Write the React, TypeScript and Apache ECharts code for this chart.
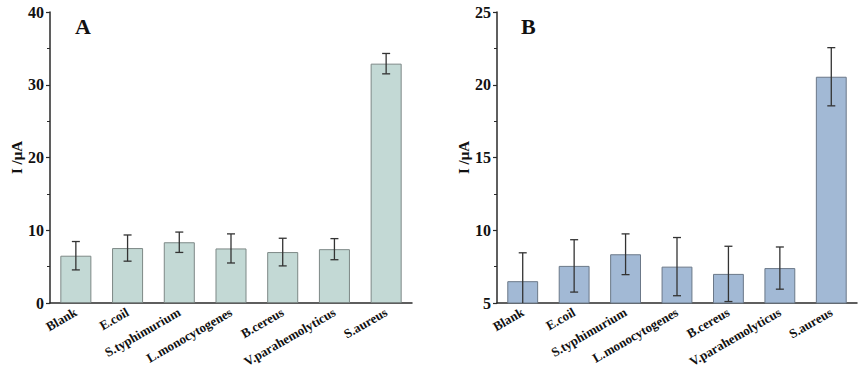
import React, { useEffect, useRef } from "react";
import * as echarts from "echarts";

const categories = [
  "Blank",
  "E.coil",
  "S.typhimurium",
  "L.monocytogenes",
  "B.cereus",
  "V.parahemolyticus",
  "S.aureus",
];
const valuesA = [6.5, 7.55, 8.35, 7.5, 7.0, 7.4, 32.9];
const errorsA = [1.95, 1.8, 1.4, 2.0, 1.9, 1.45, 1.4];
const valuesB = [6.5, 7.55, 8.35, 7.5, 7.0, 7.4, 20.55];
const errorsB = [1.95, 1.8, 1.4, 2.0, 1.9, 1.45, 2.0];
const yTicksA = { min: 0, max: 40, interval: 10 };
const yTicksB = { min: 5, max: 25, interval: 5 };

const FONT = "'Liberation Serif', 'Times New Roman', serif";
const AXIS_COLOR = "#2a2a2a";

function errorSeries(values: number[], errors: number[], idx: number) {
  return {
    type: "custom",
    xAxisIndex: idx,
    yAxisIndex: idx,
    clip: true,
    silent: true,
    z: 5,
    data: values.map((v, i) => [i, v, v - errors[i], v + errors[i]]),
    renderItem: (params: any, api: any) => {
      const x = api.value(0);
      const lo = api.coord([x, api.value(2)]);
      const hi = api.coord([x, api.value(3)]);
      const cap = 4;
      const style = { stroke: "#333", lineWidth: 1.3 };
      return {
        type: "group",
        children: [
          { type: "line", shape: { x1: hi[0], y1: hi[1], x2: lo[0], y2: lo[1] }, style },
          { type: "line", shape: { x1: hi[0] - cap, y1: hi[1], x2: hi[0] + cap, y2: hi[1] }, style },
          { type: "line", shape: { x1: lo[0] - cap, y1: lo[1], x2: lo[0] + cap, y2: lo[1] }, style },
        ],
      };
    },
  };
}

function xAxis(idx: number) {
  return {
    type: "category",
    gridIndex: idx,
    data: categories,
    axisLine: { show: true, lineStyle: { color: AXIS_COLOR, width: 1.5 } },
    axisTick: { show: false },
    axisLabel: {
      rotate: 30,
      interval: 0,
      hideOverlap: false,
      margin: 8,
      fontFamily: FONT,
      fontWeight: "bold",
      fontSize: 13,
      color: "#111",
    },
    splitLine: { show: false },
  };
}

function yAxis(idx: number, t: { min: number; max: number; interval: number }) {
  return {
    type: "value",
    gridIndex: idx,
    min: t.min,
    max: t.max,
    interval: t.interval,
    name: "I /μA",
    nameLocation: "middle",
    nameGap: 25,
    nameRotate: 90,
    nameTextStyle: { fontFamily: FONT, fontWeight: "bold", fontSize: 15, color: "#111" },
    axisLine: { show: true, lineStyle: { color: AXIS_COLOR, width: 1.5 } },
    axisTick: { show: true, length: 4, lineStyle: { color: AXIS_COLOR, width: 1.2 } },
    minorTick: { show: true, splitNumber: 2, length: 3, lineStyle: { color: AXIS_COLOR, width: 1 } },
    axisLabel: {
      margin: 6,
      fontFamily: FONT,
      fontWeight: "bold",
      fontSize: 16,
      color: "#111",
    },
    splitLine: { show: false },
  };
}

export default function App() {
  const ref = useRef<HTMLDivElement>(null);
  useEffect(() => {
    document.body.style.margin = "0";
    const chart = echarts.init(ref.current!, null, { renderer: "svg" });
    chart.setOption({
      animation: false,
      backgroundColor: "#ffffff",
      grid: [
        { left: 50, top: 12, width: 362, height: 291, outerBoundsMode: "none" },
        { left: 497, top: 12, width: 360, height: 291, outerBoundsMode: "none" },
      ],
      xAxis: [xAxis(0), xAxis(1)],
      yAxis: [yAxis(0, yTicksA), yAxis(1, yTicksB)],
      graphic: [
        {
          type: "text",
          left: 75,
          top: 15,
          style: { text: "A", font: `bold 22px ${FONT}`, fill: "#111" },
        },
        {
          type: "text",
          left: 521,
          top: 15,
          style: { text: "B", font: `bold 22px ${FONT}`, fill: "#111" },
        },
      ],
      series: [
        {
          type: "bar",
          xAxisIndex: 0,
          yAxisIndex: 0,
          data: valuesA,
          barWidth: "60%",
          itemStyle: { color: "#c3d9d5", borderColor: "#7d8886", borderWidth: 1 },
        },
        errorSeries(valuesA, errorsA, 0),
        {
          type: "bar",
          xAxisIndex: 1,
          yAxisIndex: 1,
          data: valuesB,
          barWidth: "60%",
          clip: true,
          itemStyle: { color: "#a2b9d5", borderColor: "#6b7888", borderWidth: 1 },
        },
        errorSeries(valuesB, errorsB, 1),
      ],
    });
    return () => chart.dispose();
  }, []);
  return <div ref={ref} style={{ width: 865, height: 375 }} />;
}
